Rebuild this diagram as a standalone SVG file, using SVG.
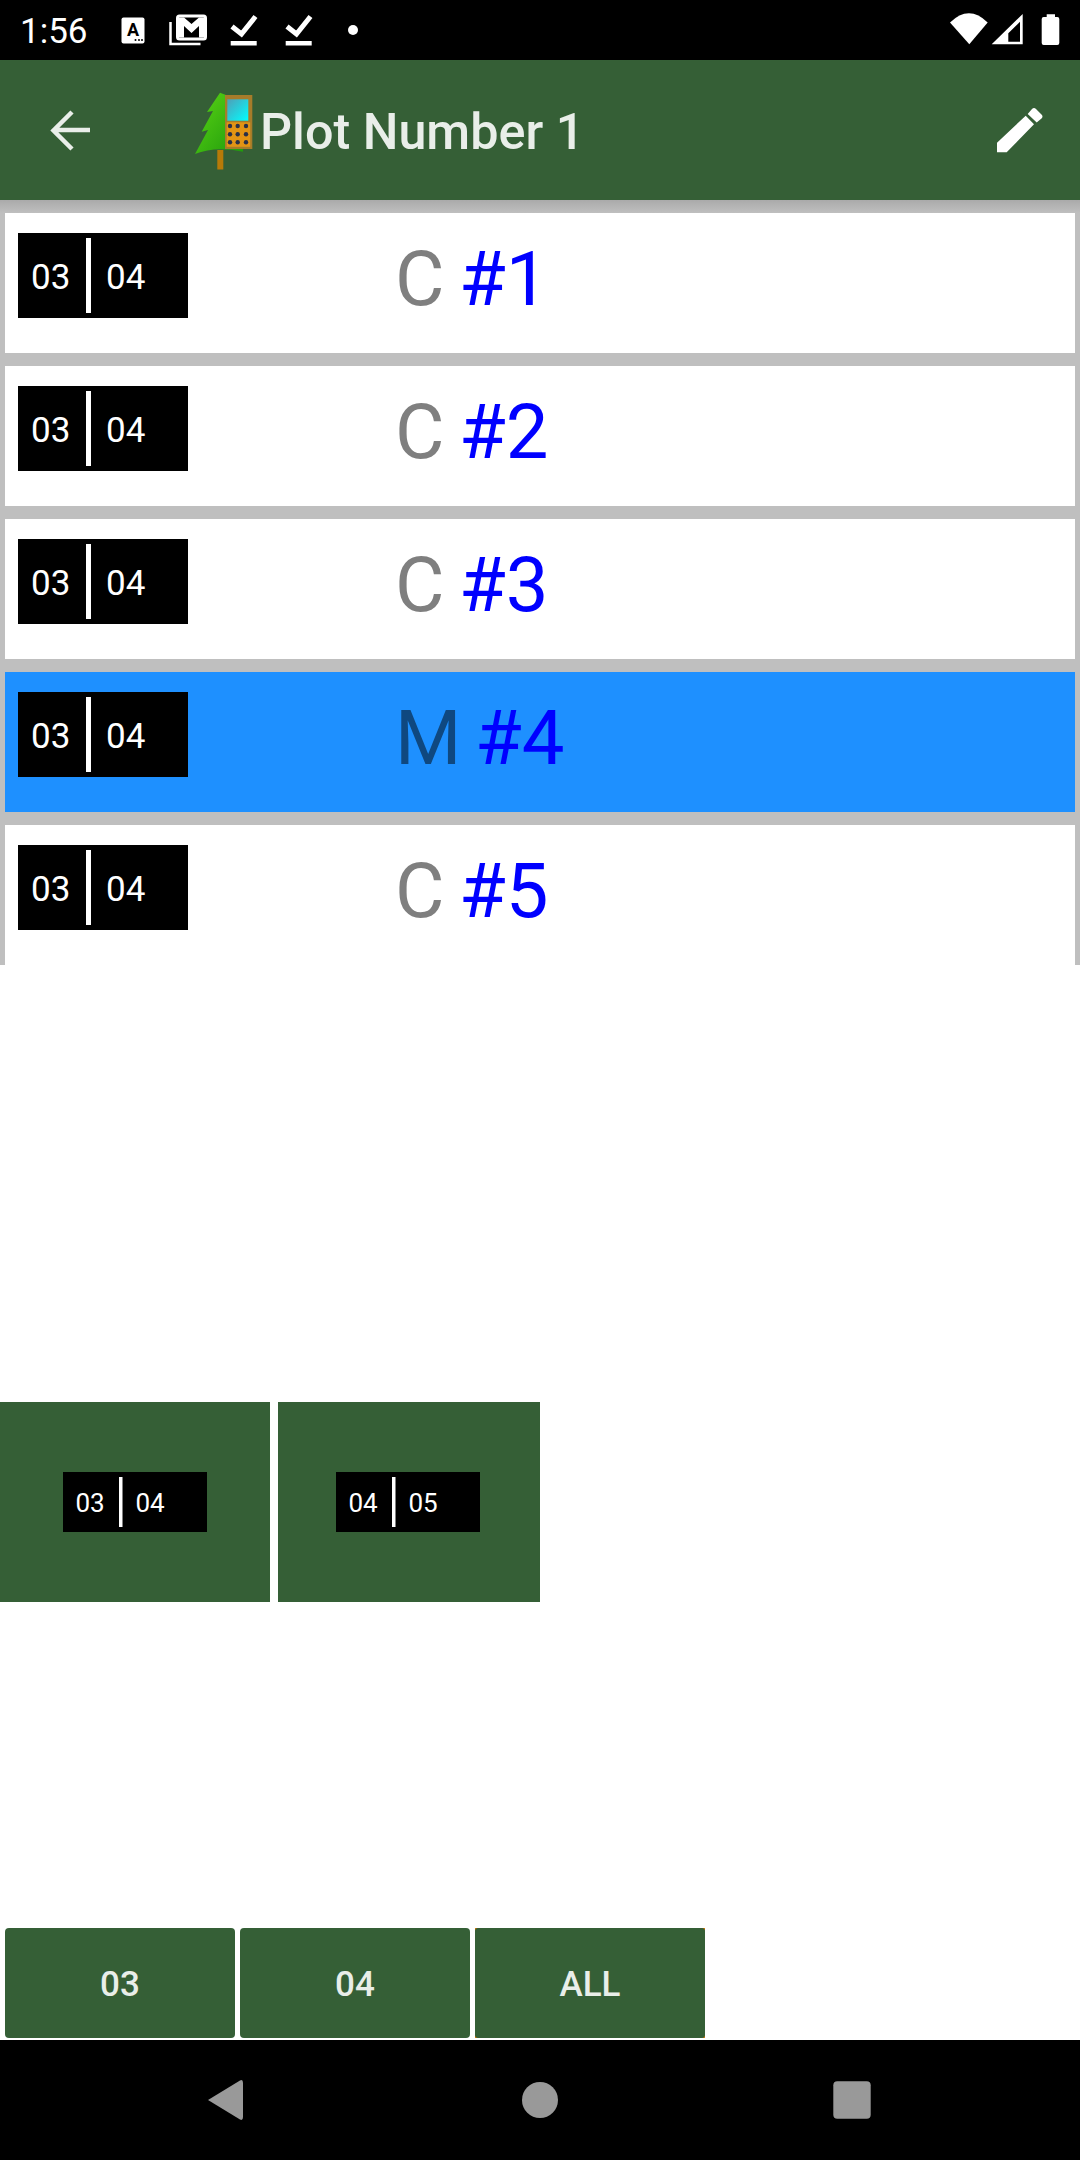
<svg xmlns="http://www.w3.org/2000/svg" width="1080" height="2160" viewBox="0 0 1080 2160">
<style>
text{font-family:Roboto,"Liberation Sans",sans-serif}
.pair{fill:#000}
.div{fill:#fff}
.num{font-size:35px;fill:#fff}
.nums{font-size:26px;fill:#fff}
.big{font-size:76px;fill:#7f7f7f}
.hash{fill:#00f}
.green{fill:#355f36}
.btn{font-size:35px;fill:#e9eee9;font-weight:500;text-anchor:middle}
.row{fill:#fff}
.nav{fill:#999}
.w{fill:#fff}
</style>
<defs>
<linearGradient id="sh" x1="0" y1="0" x2="0" y2="1"><stop offset="0" stop-color="#aaa"/><stop offset="1" stop-color="#bfbfbf"/></linearGradient>
<linearGradient id="scr" x1="0" y1="0" x2="1" y2="1"><stop offset="0" stop-color="#4f9fb8"/><stop offset="1" stop-color="#0ff"/></linearGradient>
<linearGradient id="tree" x1="0" y1="0" x2="1" y2="1"><stop offset="0" stop-color="#5ad414"/><stop offset="1" stop-color="#1f9a0c"/></linearGradient>
<g id="pair"><rect class="pair" x="18" y="0" width="170" height="85"/><rect class="div" x="86" y="5" width="5" height="75"/><text class="num" x="31" y="56">03</text><text class="num" x="106" y="56">04</text></g>
</defs>
<rect width="1080" height="2160" fill="#fff"/>
<g id="status-bar">
<rect width="1080" height="60" fill="#000"/>
<text x="20" y="43" font-size="35" fill="#fff">1:56</text>
<rect class="w" x="121.500" y="17.500" width="23" height="26" rx="2"/>
<text x="133" y="36" font-size="18" font-weight="700" text-anchor="middle" fill="#000">A</text>
<g fill="#000"><circle cx="135.500" cy="40" r="1"/><circle cx="139" cy="40" r="1"/><circle cx="142" cy="40" r="1"/></g>
<rect x="177.500" y="16" width="28" height="23" rx="2" fill="#000" stroke="#fff" stroke-width="3"/>
<path class="w" d="M179 17.500H184L191.500 24 199 17.500H204V37.500H199V26L191.500 33 184 26V37.500H179z"/>
<path d="M170.500 22V44H200.500" fill="none" stroke="#fff" stroke-width="2.500"/>
<path d="M232 26.500L241.500 34 255.500 16.500" fill="none" stroke="#fff" stroke-width="5"/><rect class="w" x="230.700" y="41" width="26" height="4.500"/>
<path d="M287 26.500L296.500 34 310.500 16.500" fill="none" stroke="#fff" stroke-width="5"/><rect class="w" x="285.700" y="41" width="26" height="4.500"/>
<circle class="w" cx="353" cy="30" r="5"/>
<path class="w" d="M950 22.500Q969 4 987.700 22.500L969.300 44.300z"/>
<path class="w" d="M991.700 44.300L1022.700 14V44.300zM1008.300 33.300V41.700H1020V21.700z" fill-rule="evenodd"/>
<path class="w" d="M1041.700 19q0-2 2-2h3v-2.700h8.300v2.700h2.300q2 0 2 2v24q0 2-2 2h-13.600q-2 0-2-2z"/>
</g>
<g id="app-bar">
<rect class="green" y="60" width="1080" height="140"/>
<path d="M90 130H54M72 112L53.500 130.500 72 149" fill="none" stroke="#e9eee9" stroke-width="4.500"/>
<text x="260" y="149" font-size="50.300" font-weight="500" fill="#e9eee9">Plot Number 1</text>
<path class="w" d="M997 142.700L1025.700 115.700 1034 124.300 1006.700 152.300H997zM1027.700 114L1032 109q2-2 4 0l5.500 5.500q2 2 0 4L1036.700 122.500z"/>
</g>
<g id="app-icon">
<rect x="217.300" y="150" width="6" height="19.500" fill="#b77a08"/>
<path d="M220 92.700L207 112 213 111 201.700 131.700 208 130 195 154Q215 146 243 151.700V148H226V95z" fill="url(#tree)"/>
<rect x="225" y="95" width="27.300" height="54" fill="#a67c2a"/>
<rect x="227.300" y="99.300" width="21" height="21.400" fill="url(#scr)"/>
<rect x="226.700" y="122.300" width="23.500" height="24.500" fill="#e39414"/>
<g fill="#2a3048"><circle cx="230" cy="126" r="2.200"/><circle cx="237.700" cy="126" r="2.200"/><circle cx="246" cy="126" r="2.200"/><circle cx="230" cy="134.300" r="2.200"/><circle cx="237.700" cy="134.300" r="2.200"/><circle cx="246" cy="134.300" r="2.200"/><circle cx="230" cy="142.300" r="2.200"/><circle cx="237.700" cy="142.300" r="2.200"/><circle cx="246" cy="142.300" r="2.200"/></g>
</g>
<g id="list">
<rect y="200" width="1080" height="765" fill="#bfbfbf"/>
<rect y="200" width="1080" height="13" fill="url(#sh)"/>
<g id="row-1"><rect class="row" x="5" y="213" width="1070" height="140"/><use href="#pair" y="233"/><text class="big" x="395" y="305">C<tspan class="hash" x="459">#1</tspan></text></g>
<g id="row-2"><rect class="row" x="5" y="366" width="1070" height="140"/><use href="#pair" y="386"/><text class="big" x="395" y="458">C<tspan class="hash" x="459">#2</tspan></text></g>
<g id="row-3"><rect class="row" x="5" y="519" width="1070" height="140"/><use href="#pair" y="539"/><text class="big" x="395" y="611">C<tspan class="hash" x="459">#3</tspan></text></g>
<g id="row-4"><rect x="5" y="672" width="1070" height="140" fill="#1e90ff"/><use href="#pair" y="692"/><text class="big" x="395" y="764" style="fill:#0f4880">M<tspan class="hash" x="475">#4</tspan></text></g>
<g id="row-5"><rect class="row" x="5" y="825" width="1070" height="140"/><use href="#pair" y="845"/><text class="big" x="395" y="917">C<tspan class="hash" x="459">#5</tspan></text></g>
</g>
<g id="card-1">
<rect class="green" y="1402" width="270" height="200"/>
<rect class="pair" x="63" y="1472" width="144" height="60"/><rect class="div" x="119" y="1477" width="3.500" height="50"/>
<text class="nums" x="75.500" y="1512">03</text><text class="nums" x="135.500" y="1512">04</text>
</g>
<g id="card-2">
<rect class="green" x="278" y="1402" width="262" height="200"/>
<rect class="pair" x="336" y="1472" width="144" height="60"/><rect class="div" x="392" y="1477" width="3.500" height="50"/>
<text class="nums" x="348.500" y="1512">04</text><text class="nums" x="408.500" y="1512">05</text>
</g>
<g id="btn-03"><rect class="green" x="5" y="1928" width="230" height="110" rx="4"/><text class="btn" x="120" y="1996">03</text></g>
<g id="btn-04"><rect class="green" x="240" y="1928" width="230" height="110" rx="4"/><text class="btn" x="355" y="1996">04</text></g>
<g id="btn-all"><rect x="475" y="1928" width="230" height="110" fill="#e87a00"/><rect class="green" x="475" y="1928" width="230" height="110" rx="3"/><text class="btn" x="590" y="1996">ALL</text></g>
<g id="nav-bar">
<rect y="2040" width="1080" height="120" fill="#000"/>
<path class="nav" d="M208 2100L240 2080.500Q243 2079 243 2083V2117Q243 2121 240 2119.500z"/>
<circle class="nav" cx="540" cy="2100" r="18"/>
<rect class="nav" x="833.300" y="2081.300" width="37.400" height="37.400" rx="4"/>
</g>
</svg>
